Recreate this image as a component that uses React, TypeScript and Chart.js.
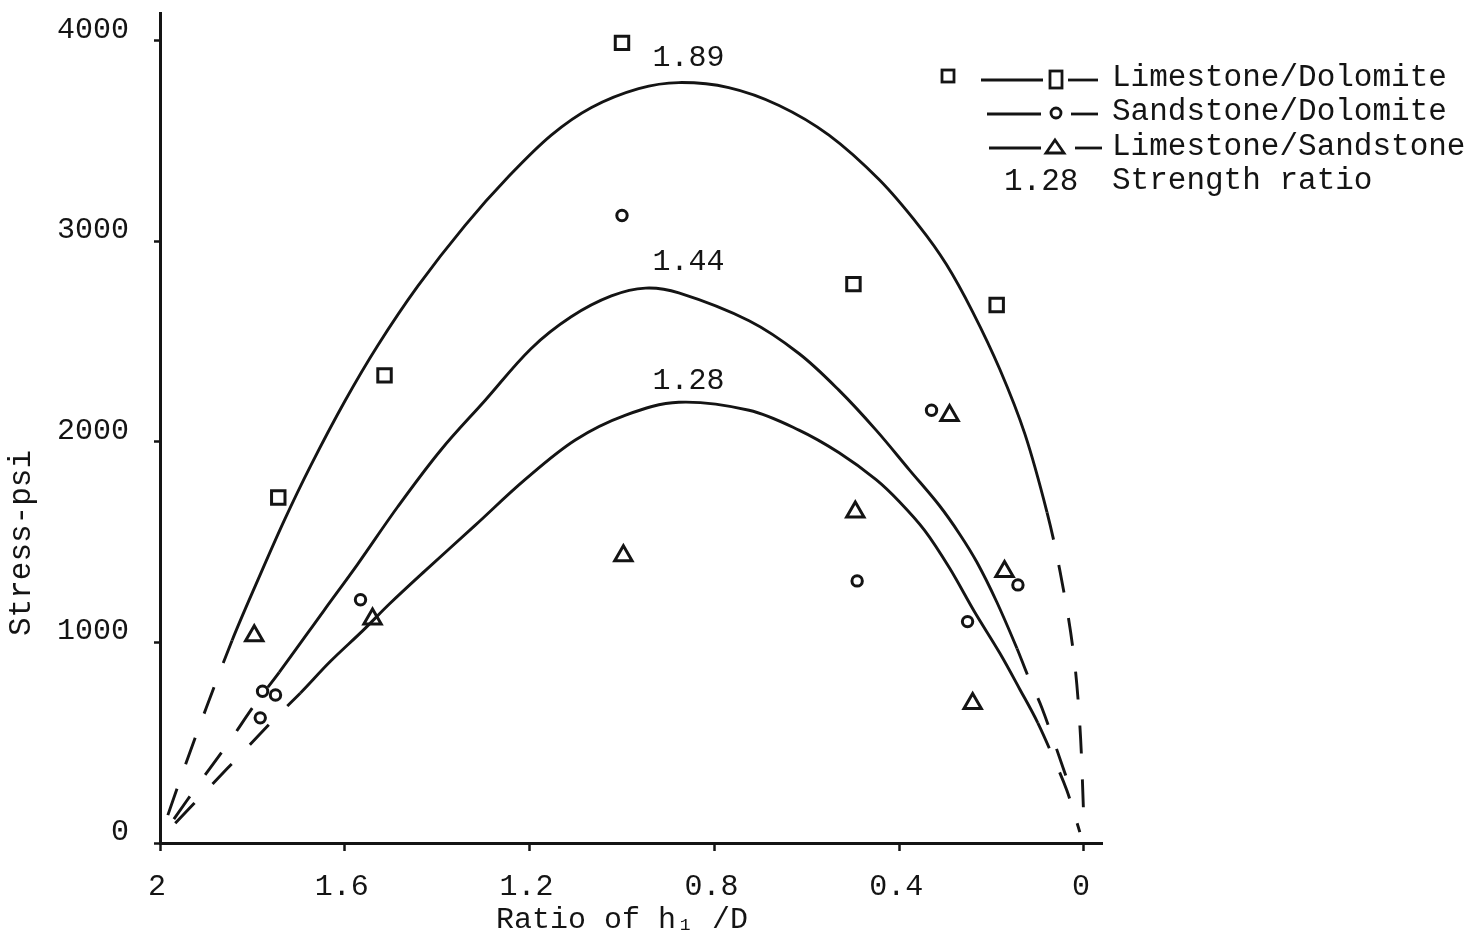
import React, { useEffect, useRef } from "react";
import { Chart, registerables } from "chart.js";

Chart.register(...registerables);

const FONT_FAMILY = '"Liberation Mono", "Cousine", "Courier New", monospace';
const INK = "#141414";

// axis ticks
const xTickValues = [2, 1.6, 1.2, 0.8, 0.4, 0];
const yTickValues = [0, 1000, 2000, 3000, 4000];

// series names
const seriesNames = ["Limestone/Dolomite", "Sandstone/Dolomite", "Limestone/Sandstone"];

// measured points: Limestone/Dolomite (squares)
const limeDoloX = [1.0, 1.514, 1.744, 0.499, 0.189];
const limeDoloY = [3990, 2332, 1723, 2787, 2683];

// measured points: Sandstone/Dolomite (circles)
const sandDoloX = [1.0, 1.566, 1.778, 1.75, 1.783, 0.491, 0.33, 0.252, 0.143];
const sandDoloY = [3129, 1213, 757, 738, 624, 1307, 2158, 1104, 1287];

// measured points: Limestone/Sandstone (triangles)
const limeSandX = [1.796, 1.54, 0.997, 0.495, 0.291, 0.172, 0.241];
const limeSandY = [1033, 1117, 1433, 1651, 2132, 1354, 696];

// fitted curve, strength ratio 1.89
const curve189X = [1.983, 1.944, 1.9, 1.844, 1.789, 1.731, 1.674, 1.6, 1.529, 1.442, 1.34, 1.246, 1.153, 1.066, 0.964, 0.877, 0.769, 0.66, 0.552, 0.443, 0.356, 0.298, 0.241, 0.182, 0.128, 0.08, 0.052, 0.024, 0.009, 0.0];
const curve189Y = [139, 396, 673, 1010, 1307, 1609, 1881, 2203, 2480, 2777, 3079, 3322, 3530, 3668, 3762, 3792, 3767, 3678, 3530, 3307, 3074, 2886, 2649, 2361, 2040, 1649, 1356, 970, 589, 99];

// fitted curve, strength ratio 1.44
const curve144X = [1.97, 1.911, 1.85, 1.794, 1.742, 1.644, 1.572, 1.485, 1.392, 1.296, 1.197, 1.11, 1.023, 0.949, 0.877, 0.725, 0.617, 0.53, 0.45, 0.378, 0.313, 0.269, 0.232, 0.189, 0.145, 0.122, 0.091, 0.041, 0.022];
const curve144Y = [119, 312, 505, 693, 851, 1163, 1391, 1678, 1960, 2208, 2465, 2624, 2728, 2767, 2743, 2604, 2441, 2257, 2059, 1861, 1683, 1540, 1401, 1203, 970, 837, 673, 347, 223];

// fitted curve, strength ratio 1.28
const curve128X = [1.967, 1.887, 1.822, 1.746, 1.696, 1.631, 1.561, 1.503, 1.427, 1.318, 1.21, 1.101, 0.992, 0.877, 0.725, 0.617, 0.53, 0.45, 0.4, 0.345, 0.291, 0.237, 0.182, 0.139, 0.1, 0.059, 0.037, 0.022, 0.009];
const curve128Y = [99, 292, 450, 634, 748, 906, 1059, 1193, 1356, 1584, 1812, 2010, 2134, 2198, 2158, 2059, 1946, 1812, 1703, 1559, 1371, 1153, 946, 767, 599, 386, 262, 153, 54];

// curve labels (strength ratios) and where they sit
const curveLabels = ["1.89", "1.44", "1.28"];
const curveLabelX = [0.856, 0.856, 0.856];
const curveLabelY = [3912, 2895, 2305];

// portion of each curve drawn solid (rest is dashed extrapolation)
const solidFromX = [1.844, 1.742, 1.696];
const solidToX = [0.08, 0.145, 0.1];

const toPoints = (xs: number[], ys: number[]) => xs.map((x, i) => ({ x, y: ys[i] }));

function curveDataset(xs: number[], ys: number[], idx: number) {
  return {
    label: "curve " + curveLabels[idx],
    data: toPoints(xs, ys),
    showLine: true,
    borderColor: INK,
    borderWidth: 2.9,
    pointRadius: 0,
    pointHoverRadius: 0,
    tension: 0.35,
    fill: false,
    clip: false as any,
    order: 2,
    segment: {
      borderDash: (ctx: any) => {
        const a = ctx.p0.parsed.x;
        const b = ctx.p1.parsed.x;
        const inside = (v: number) => v <= solidFromX[idx] + 1e-6 && v >= solidToX[idx] - 1e-6;
        return inside(a) && inside(b) ? [] : [28, 26];
      },
    },
  };
}

function markerDataset(name: string, xs: number[], ys: number[], style: string, radius: number) {
  return {
    label: name,
    data: toPoints(xs, ys),
    showLine: false,
    pointStyle: style,
    pointRadius: radius,
    pointHoverRadius: radius,
    pointBorderWidth: 3,
    pointBorderColor: INK,
    pointBackgroundColor: "rgba(255,255,255,0)",
    borderColor: INK,
    backgroundColor: "rgba(255,255,255,0)",
    clip: false as any,
    order: 1,
  };
}

const textPlugin = {
  id: "textOverlay",
  afterDatasetsDraw(chart: any) {
    const { ctx } = chart;
    const xs = chart.scales.x;
    const ys = chart.scales.y;
    ctx.save();
    ctx.fillStyle = INK;
    ctx.strokeStyle = INK;
    ctx.font = `30px ${FONT_FAMILY}`;
    ctx.textBaseline = "middle";

    // curve labels
    ctx.textAlign = "center";
    curveLabels.forEach((t, i) => {
      ctx.fillText(t, xs.getPixelForValue(curveLabelX[i]), ys.getPixelForValue(curveLabelY[i]));
    });

    // axis titles
    ctx.fillText("Ratio of h\u2081 /D", 622, 920);
    ctx.save();
    ctx.translate(22, 543);
    ctx.rotate(-Math.PI / 2);
    ctx.font = `31px ${FONT_FAMILY}`;
    ctx.fillText("Stress-psi", 0, 0);
    ctx.restore();

    // legend
    ctx.lineWidth = 2.8;
    const line = (x1: number, x2: number, y: number) => {
      ctx.beginPath();
      ctx.moveTo(x1, y);
      ctx.lineTo(x2, y);
      ctx.stroke();
    };
    // stand-alone square
    ctx.strokeRect(942, 70, 12, 12);
    // row 1
    line(981, 1043, 80);
    ctx.strokeRect(1050, 71, 12, 17);
    line(1068, 1098, 80);
    // row 2
    line(987, 1041, 114);
    ctx.beginPath();
    ctx.arc(1056, 113, 5, 0, Math.PI * 2);
    ctx.stroke();
    line(1071, 1098, 114);
    // row 3
    line(989, 1041, 148);
    ctx.beginPath();
    ctx.moveTo(1055, 140);
    ctx.lineTo(1064, 153);
    ctx.lineTo(1046, 153);
    ctx.closePath();
    ctx.stroke();
    line(1075, 1102, 148);

    ctx.textAlign = "left";
    ctx.font = `31px ${FONT_FAMILY}`;
    const rowY = [78, 112, 147];
    seriesNames.forEach((n, i) => ctx.fillText(n, 1112, rowY[i]));
    ctx.fillText("1.28", 1004, 182);
    ctx.fillText("Strength ratio", 1112, 181);

    ctx.restore();
  },
};

const zeroPadding = (s: any) => {
  s.paddingTop = 0;
  s.paddingBottom = 0;
  s.paddingLeft = 0;
  s.paddingRight = 0;
};

export default function App() {
  const canvasRef = useRef<HTMLCanvasElement>(null);

  useEffect(() => {
    const canvas = canvasRef.current;
    if (!canvas) return;
    const tickFont = { family: FONT_FAMILY, size: 30 };
    const chart = new Chart(canvas, {
      type: "scatter",
      data: {
        datasets: [
          curveDataset(curve189X, curve189Y, 0),
          curveDataset(curve144X, curve144Y, 1),
          curveDataset(curve128X, curve128Y, 2),
          markerDataset(seriesNames[0], limeDoloX, limeDoloY, "rect", 9.5),
          markerDataset(seriesNames[1], sandDoloX, sandDoloY, "circle", 5.2),
          markerDataset(seriesNames[2], limeSandX, limeSandY, "triangle", 10),
        ] as any,
      },
      options: {
        responsive: false,
        animation: false,
        devicePixelRatio: 1,
        layout: { padding: { left: 0, top: 7, right: 370, bottom: 0 } },
        plugins: {
          legend: { display: false },
          tooltip: { enabled: false },
          title: { display: false },
        },
        events: [],
        scales: {
          x: {
            type: "linear",
            reverse: true,
            min: -0.039,
            max: 2,
            afterBuildTicks: (axis: any) => {
              axis.ticks = xTickValues.map((v) => ({ value: v }));
            },
            afterFit: (s: any) => {
              s.height = 97;
              zeroPadding(s);
            },
            grid: {
              drawOnChartArea: false,
              drawTicks: true,
              tickLength: 8,
              tickWidth: 2.5,
              color: INK,
            },
            border: { display: true, color: INK, width: 3 },
            ticks: {
              font: tickFont,
              color: INK,
              padding: 18,
              maxRotation: 0,
              autoSkip: false,
              labelOffset: -3,
              callback: (v: any) => String(Number(Number(v).toFixed(1))),
            },
          },
          y: {
            type: "linear",
            min: 0,
            max: 4139,
            afterBuildTicks: (axis: any) => {
              axis.ticks = yTickValues.map((v) => ({ value: v }));
            },
            afterFit: (s: any) => {
              s.width = 160;
              zeroPadding(s);
            },
            grid: {
              drawOnChartArea: false,
              drawTicks: true,
              tickLength: 6,
              tickWidth: 2.5,
              color: INK,
            },
            border: { display: true, color: INK, width: 3 },
            ticks: {
              font: tickFont,
              color: INK,
              padding: 25,
              labelOffset: -11,
              autoSkip: false,
              callback: (v: any) => String(v),
            },
          },
        },
      },
      plugins: [textPlugin],
    });
    return () => chart.destroy();
  }, []);

  return (
    <div style={{ position: "fixed", left: 0, top: 0, width: 1472, height: 940, background: "#ffffff" }}>
      <canvas ref={canvasRef} width={1472} height={940} style={{ display: "block", width: 1472, height: 940 }} />
    </div>
  );
}
